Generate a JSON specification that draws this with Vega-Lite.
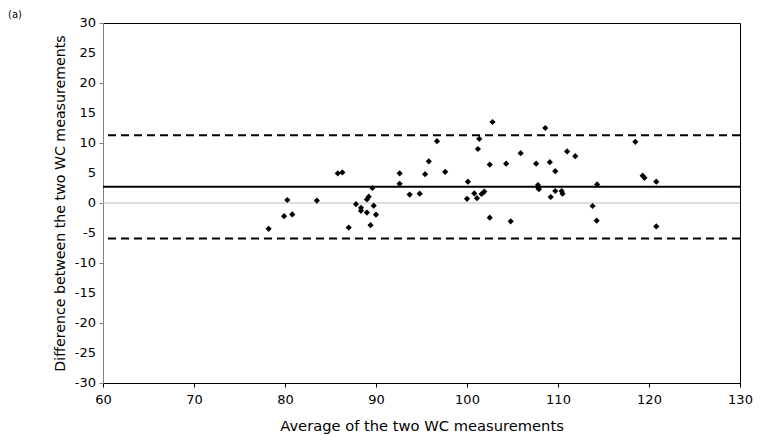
{
  "$schema": "https://vega.github.io/schema/vega-lite/v6.json",
  "width": 637,
  "height": 360,
  "autosize": {"type": "none"},
  "padding": {"left": 103, "top": 23, "right": 20, "bottom": 58},
  "config": {
    "font": "DejaVu Sans",
    "view": {"stroke": "black", "strokeWidth": 1},
    "axis": {"grid": false, "labelFont": "DejaVu Sans", "titleFont": "DejaVu Sans", "labelColor": "#000", "titleColor": "#000", "titleFontWeight": "normal", "labelOverlap": false}
  },
  "datasets": {
    "pts": [
      {"avg": 78.2, "diff": -4.3},
      {"avg": 80.25, "diff": 0.5},
      {"avg": 79.9, "diff": -2.2},
      {"avg": 80.8, "diff": -1.9},
      {"avg": 83.5, "diff": 0.4},
      {"avg": 85.8, "diff": 4.95},
      {"avg": 86.3, "diff": 5.1},
      {"avg": 87.0, "diff": -4.1},
      {"avg": 87.8, "diff": -0.2},
      {"avg": 88.35, "diff": -0.8},
      {"avg": 88.35, "diff": -1.3},
      {"avg": 89.0, "diff": -1.6},
      {"avg": 89.0, "diff": 0.6},
      {"avg": 89.2, "diff": 1.05},
      {"avg": 89.6, "diff": 2.5},
      {"avg": 89.75, "diff": -0.45},
      {"avg": 90.0, "diff": -1.95},
      {"avg": 89.4, "diff": -3.7},
      {"avg": 92.6, "diff": 4.95},
      {"avg": 92.6, "diff": 3.2},
      {"avg": 93.7, "diff": 1.4},
      {"avg": 94.8, "diff": 1.55},
      {"avg": 95.4, "diff": 4.8},
      {"avg": 95.8, "diff": 6.95},
      {"avg": 97.6, "diff": 5.2},
      {"avg": 96.7, "diff": 10.3},
      {"avg": 100.1, "diff": 3.55},
      {"avg": 100.0, "diff": 0.7},
      {"avg": 100.8, "diff": 1.6},
      {"avg": 101.1, "diff": 0.8},
      {"avg": 101.6, "diff": 1.5},
      {"avg": 101.9, "diff": 1.9},
      {"avg": 101.35, "diff": 10.7},
      {"avg": 101.2, "diff": 9.0},
      {"avg": 102.8, "diff": 13.5},
      {"avg": 102.5, "diff": 6.4},
      {"avg": 102.5, "diff": -2.45},
      {"avg": 104.3, "diff": 6.55},
      {"avg": 104.8, "diff": -3.05},
      {"avg": 105.9, "diff": 8.3},
      {"avg": 107.6, "diff": 6.55},
      {"avg": 108.6, "diff": 12.5},
      {"avg": 107.8, "diff": 3.0},
      {"avg": 107.9, "diff": 2.3},
      {"avg": 107.8, "diff": 2.6},
      {"avg": 109.1, "diff": 6.8},
      {"avg": 109.7, "diff": 5.3},
      {"avg": 109.7, "diff": 2.0},
      {"avg": 109.2, "diff": 1.0},
      {"avg": 110.4, "diff": 2.0},
      {"avg": 110.5, "diff": 1.55},
      {"avg": 111.0, "diff": 8.6},
      {"avg": 111.9, "diff": 7.8},
      {"avg": 113.8, "diff": -0.5},
      {"avg": 114.3, "diff": 3.1},
      {"avg": 114.25, "diff": -2.95},
      {"avg": 118.5, "diff": 10.2},
      {"avg": 119.3, "diff": 4.55},
      {"avg": 119.5, "diff": 4.2},
      {"avg": 120.8, "diff": 3.55},
      {"avg": 120.8, "diff": -3.9}
    ],
    "yticks": [
      {"y": -30, "lab": "-30"}, {"y": -25, "lab": "-25"}, {"y": -20, "lab": "-20"},
      {"y": -15, "lab": "-15"}, {"y": -10, "lab": "-10"}, {"y": -5, "lab": "-5"},
      {"y": 0, "lab": "0"}, {"y": 5, "lab": "5"}, {"y": 10, "lab": "10"},
      {"y": 15, "lab": "15"}, {"y": 20, "lab": "20"}, {"y": 25, "lab": "25"}, {"y": 30, "lab": "30"}
    ],
    "dashed": [{"y": 11.3}, {"y": -5.9}],
    "mean": [{"y": 2.7}],
    "zero": [{"y": 0}]
  },
  "encoding": {
    "y": {"field": "y", "type": "quantitative",
      "scale": {"domain": [-30, 30], "nice": false, "zero": false},
      "axis": {"values": [-30, -25, -20, -15, -10, -5, 0, 5, 10, 15, 20, 25, 30], "tickCount": 12, "labels": false, "title": "Difference between the two WC measurements", "titleFontSize": 14.2, "titlePadding": 31, "tickSize": 4, "domainColor": "#808080", "tickColor": "#808080"}}
  },
  "layer": [
    {
      "data": {"name": "zero"},
      "mark": {"type": "rule", "color": "#bdbdbd", "strokeWidth": 1}
    },
    {
      "data": {"name": "dashed"},
      "mark": {"type": "rule", "color": "black", "strokeWidth": 2, "strokeDash": [8, 5]}
    },
    {
      "data": {"name": "mean"},
      "mark": {"type": "rule", "color": "black", "strokeWidth": 2}
    },
    {
      "data": {"name": "yticks"},
      "mark": {"type": "text", "align": "right", "baseline": "middle", "dx": -7, "fontSize": 13, "font": "DejaVu Sans", "color": "#000", "clip": false},
      "encoding": {
        "x": {"datum": 60, "type": "quantitative"},
        "text": {"field": "lab"}
      }
    },
    {
      "data": {"name": "pts"},
      "transform": [{"calculate": "datum.diff", "as": "y"}],
      "mark": {"type": "point", "shape": "diamond", "filled": true, "color": "black", "size": 38, "opacity": 1},
      "encoding": {
        "x": {
          "field": "avg", "type": "quantitative",
          "scale": {"domain": [60, 130], "nice": false, "zero": false},
          "axis": {"values": [60, 70, 80, 90, 100, 110, 120, 130], "title": "Average of the two WC measurements", "titleFontSize": 14.7, "labelFontSize": 13, "labelPadding": 6, "titlePadding": 12, "tickSize": 4, "domainColor": "black", "tickColor": "black", "labelFlush": false, "labelOverlap": false}
        }
      }
    },
    {
      "data": {"values": [{"t": "(a)"}]},
      "mark": {"type": "text", "text": "(a)", "x": -95, "y": -8, "fontSize": 10, "font": "DejaVu Sans", "align": "left", "color": "#000"},
      "encoding": {"y": null}
    }
  ]
}
